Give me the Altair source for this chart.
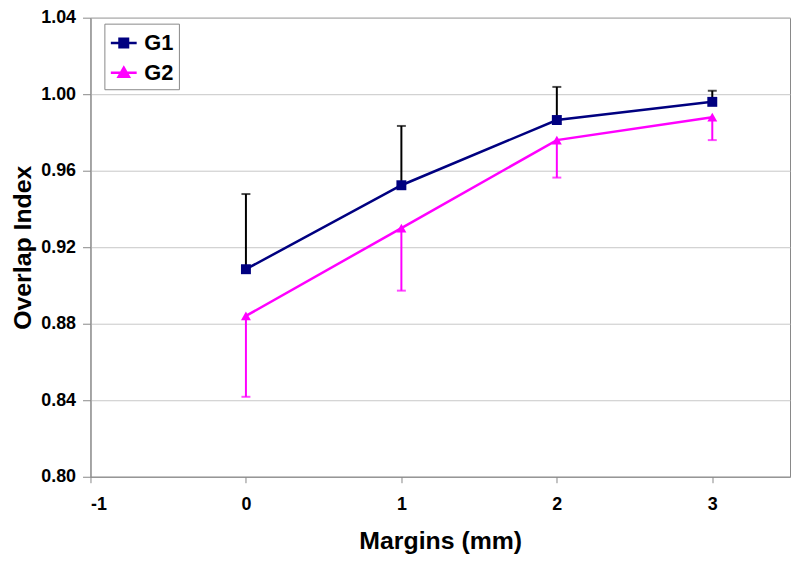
import altair as alt
import pandas as pd

margins = [0, 1, 2, 3]
g1_mean = [0.9085, 0.9524, 0.9865, 0.9960]
g1_upper = [0.9478, 0.9834, 1.0038, 1.0018]
g2_mean = [0.8841, 0.9300, 0.9760, 0.9880]
g2_lower = [0.8418, 0.8973, 0.9564, 0.9760]
series_names = ["G1", "G2"]
series_colors = ["#000080", "#FF00FF"]
err_colors = ["#000000", "#FF00FF"]
x_ticks = [-1, 0, 1, 2, 3]
y_ticks = [0.80, 0.84, 0.88, 0.92, 0.96, 1.00, 1.04]

rows = []
for m, v, u in zip(margins, g1_mean, g1_upper):
    rows.append(dict(series="G1", margin=m, value=v, lo=v, hi=u, cap=u, ecolor=err_colors[0]))
for m, v, l in zip(margins, g2_mean, g2_lower):
    rows.append(dict(series="G2", margin=m, value=v, lo=l, hi=v, cap=l, ecolor=err_colors[1]))
df = pd.DataFrame(rows)

FONT = "Liberation Sans"

x_enc = alt.X(
    "margin:Q",
    scale=alt.Scale(domain=[-1, 3.5], nice=False, zero=False),
    axis=alt.Axis(values=x_ticks, title="Margins (mm)", grid=False,
                  labelExpr="toString(datum.value)",
                  tickSize=6, labelPadding=13, titlePadding=15),
)


def y_enc(field):
    return alt.Y(
        field,
        scale=alt.Scale(domain=[0.80, 1.04], nice=False, zero=False),
        axis=alt.Axis(values=y_ticks, format=".2f", title="Overlap Index", grid=True,
                      tickSize=8, labelPadding=7, titlePadding=5),
    )


base = alt.Chart(df)

err_rules = base.mark_rule(strokeWidth=2).encode(
    x=x_enc, y=y_enc("lo:Q"), y2="hi:Q",
    color=alt.Color("ecolor:N", scale=None),
)
err_caps = base.mark_tick(orient="horizontal", size=9, thickness=2).encode(
    x=x_enc, y=y_enc("cap:Q"),
    color=alt.Color("ecolor:N", scale=None),
)

color_main = alt.Color("series:N", scale=alt.Scale(domain=series_names, range=series_colors), legend=None)

lines = base.mark_line(strokeWidth=2.5).encode(
    x=x_enc, y=y_enc("value:Q"), color=color_main, detail="series:N"
)
points = base.mark_point(filled=True, opacity=1, size=100).encode(
    x=x_enc, y=y_enc("value:Q"), color=color_main,
    shape=alt.Shape("series:N", scale=alt.Scale(domain=series_names, range=["square", "triangle-up"]), legend=None),
)

legend_paths = [
    "M-1,0L1,0M-0.33,-0.33L0.33,-0.33L0.33,0.33L-0.33,0.33Z",
    "M-1,0L1,0M0,-0.4L0.4,0.3L-0.4,0.3Z",
]
leg = alt.Legend(title=None, orient="none", legendX=14, legendY=6,
                 strokeColor="#888888", fillColor="white", padding=5,
                 symbolSize=676, symbolStrokeWidth=2.5, symbolOpacity=1,
                 labelFontSize=22, labelFont=FONT, labelFontWeight="bold",
                 labelColor="black", labelOffset=6, rowPadding=4)
legend_layer = base.mark_point(filled=True, opacity=0).encode(
    x=x_enc, y=y_enc("value:Q"),
    color=alt.Color("series:N", scale=alt.Scale(domain=series_names, range=series_colors), legend=leg),
    stroke=alt.Stroke("series:N", scale=alt.Scale(domain=series_names, range=series_colors), legend=leg),
    shape=alt.Shape("series:N", scale=alt.Scale(domain=series_names, range=legend_paths), legend=leg),
)

chart = alt.layer(err_rules, err_caps, lines, points, legend_layer).resolve_scale(
    color="independent", shape="independent", stroke="independent"
).properties(
    width=704, height=462,
    autosize="none",
    padding={"left": 83, "top": 8, "right": 2, "bottom": 77},
    background="white",
).configure_view(
    stroke="#888888", strokeWidth=1
).configure_axis(
    domainColor="#888888", tickColor="#888888", gridColor="#c8c8c8",
    labelFont=FONT, labelFontSize=18, labelFontWeight="bold", labelColor="black",
    titleFont=FONT, titleFontSize=25, titleFontWeight="bold", titleColor="black",
)

chart.save("out.html", embed_options={"renderer": "svg", "actions": False})
